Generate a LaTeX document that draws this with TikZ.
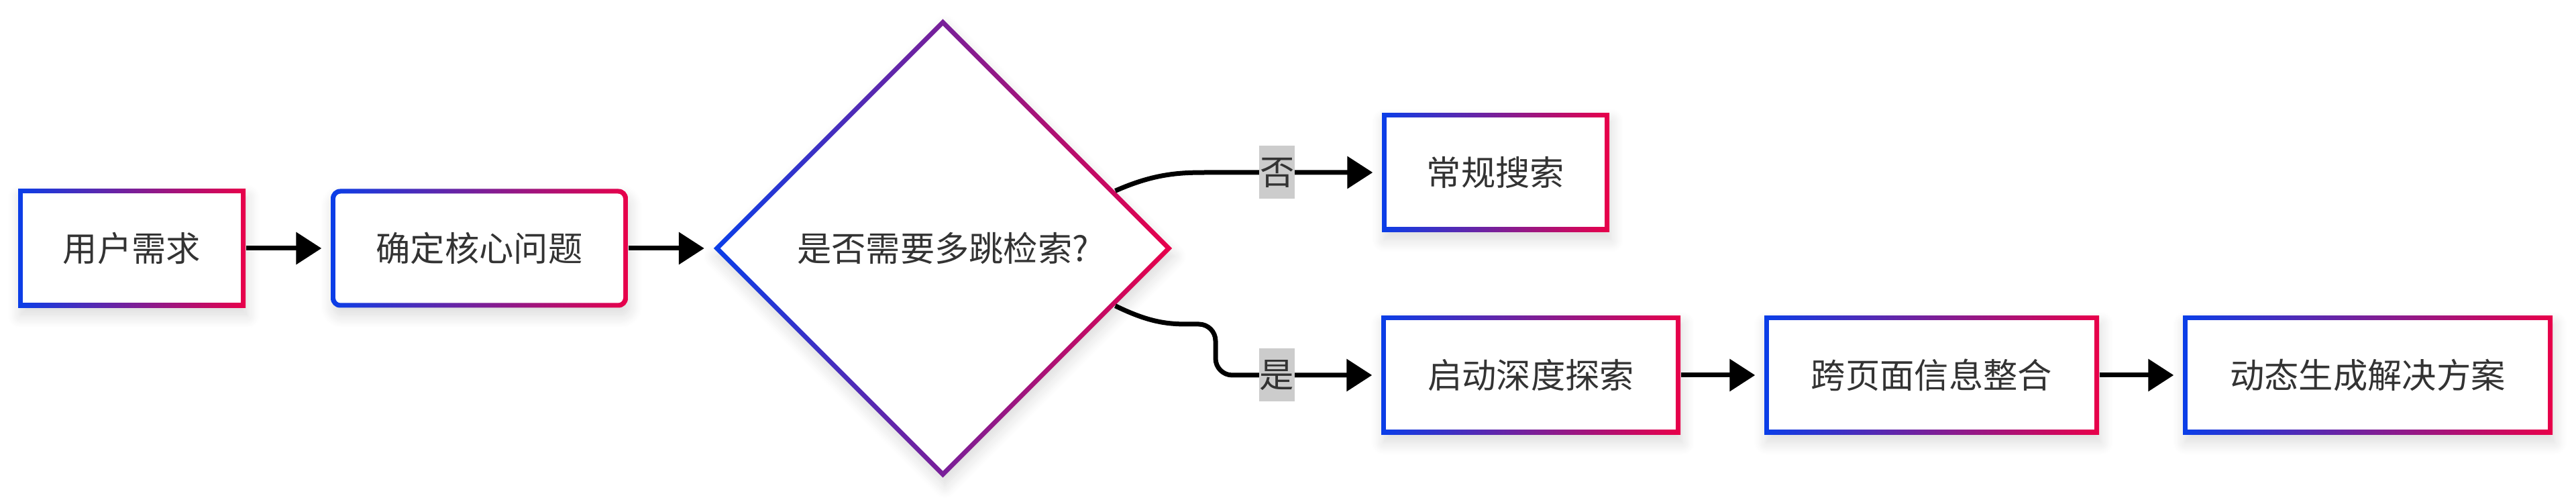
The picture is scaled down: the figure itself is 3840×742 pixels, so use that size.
\documentclass[tikz,border=0pt]{standalone}
\usepackage{fontspec}
\setmainfont{Noto Sans CJK SC}
\usetikzlibrary{shapes.geometric,arrows.meta,calc,shadows.blur}

\definecolor{MBlue}{HTML}{0A3EE8}
\definecolor{MRed}{HTML}{E8004A}
\definecolor{MText}{HTML}{333333}
\definecolor{MLabel}{HTML}{CCCCCC}

\tikzset{
	softshadow/.style={blur shadow={shadow xshift=0.3mm, shadow yshift=-1.2mm, shadow blur radius=1.8mm, shadow blur steps=10, shadow opacity=14}},
	proc/.style={rectangle, minimum height=17.7mm, inner sep=0pt, left color=MBlue, right color=MRed, text=MText, font=\fontsize{14.6pt}{17pt}\selectfont, softshadow,
		path picture={\fill[white] ([shift={(0.7mm,0.7mm)}]path picture bounding box.south west) rectangle ([shift={(-0.7mm,-0.7mm)}]path picture bounding box.north east);}},
	rproc/.style={proc, rounded corners=1.4mm,
		path picture={\fill[white, rounded corners=0.8mm] ([shift={(0.7mm,0.7mm)}]path picture bounding box.south west) rectangle ([shift={(-0.7mm,-0.7mm)}]path picture bounding box.north east);}},
	decision/.style={diamond, aspect=1, minimum width=68.4mm, minimum height=68.4mm, inner sep=0pt, left color=MBlue, right color=MRed, text=MText, font=\fontsize{14.6pt}{17pt}\selectfont, softshadow,
		path picture={\fill[white] ([xshift=1mm]path picture bounding box.west) -- ([yshift=-1mm]path picture bounding box.north) -- ([xshift=-1mm]path picture bounding box.east) -- ([yshift=1mm]path picture bounding box.south) -- cycle;}},
	lbl/.style={sharp corners, fill=MLabel, text=MText, inner sep=0pt, minimum width=5.3mm, minimum height=7.9mm, font=\fontsize{14.6pt}{17pt}\selectfont},
	flow/.style={line width=0.7mm, -{Triangle[length=3.8mm,width=4.7mm]}, shorten >=1.3mm}
}

\begin{document}
\begin{tikzpicture}[x=0.1mm, y=-0.1mm]
	\useasboundingbox (0,0) rectangle (3840,742);
	
	\node[proc, minimum width=33.9mm] (need) at (196.5,370) {用户需求};
	\node[rproc, minimum width=44.3mm] (core) at (714.5,370) {确定核心问题};
	\node[decision] (q) at (1405.5,370) {是否需要多跳检索?};
	\node[proc, minimum width=33.9mm] (normal) at (2229.5,257) {常规搜索};
	\node[proc, minimum width=44.6mm] (deep) at (2282,559) {启动深度探索};
	\node[proc, minimum width=49.9mm] (merge) at (2879.5,559) {跨页面信息整合};
	\node[proc, minimum width=55.1mm] (plan) at (3529.5,559) {动态生成解决方案};
	
	\draw[flow] (need.east) -- (core.west);
	\draw[flow] (core.east) -- (q.west);
	
	\coordinate (nobend) at (1800,257);
	\draw[flow] ($(q.east)!0.25!(q.north)$) .. controls (1722,258) and (1760,257) .. (nobend) -- node[lbl, pos=0.4] {否} (normal.west);
	
	\coordinate (yesbend) at (1812,483);
	\draw[flow] ($(q.east)!0.25!(q.south)$) .. controls (1712,480) and (1740,483) .. (1770,483) [rounded corners=2.5mm] -- (yesbend) -- (yesbend |- deep.west) -- node[lbl, pos=0.37] {是} (deep.west);
	
	\draw[flow] (deep.east) -- (merge.west);
	\draw[flow] (merge.east) -- (plan.west);
	
\end{tikzpicture}
\end{document}
